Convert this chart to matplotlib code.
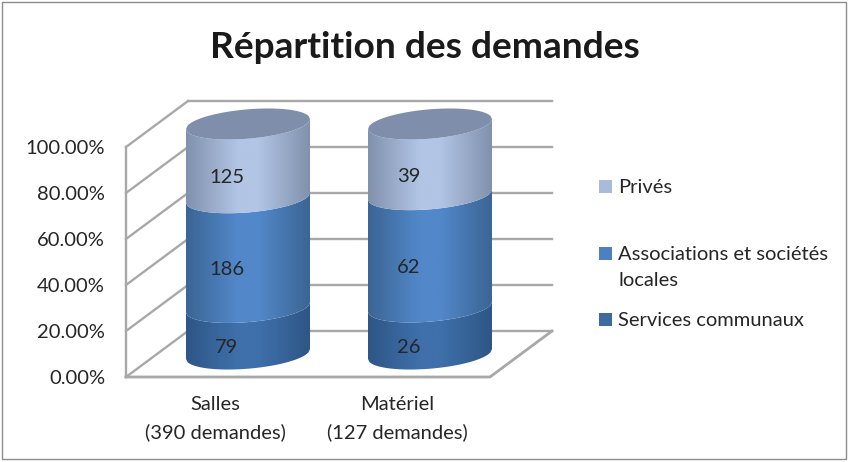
import matplotlib
matplotlib.use('Agg')
import matplotlib.pyplot as plt
import numpy as np
from matplotlib.patches import Polygon, Rectangle
from matplotlib.colors import LinearSegmentedColormap

plt.rcParams['font.family'] = ['Lato', 'DejaVu Sans']

title = 'Répartition des demandes'
categories = ['Salles\n(390 demandes)', 'Matériel\n(127 demandes)']
services = [79, 26]
associations = [186, 62]
prives = [125, 39]
series_names = ['Services communaux', 'Associations et sociétés\nlocales', 'Privés']
y_ticks = [0, 20, 40, 60, 80, 100]

# edge / middle colours for the cylinder shading
shades = [
    ('#2E5686', '#3F70AB'),
    ('#3B6594', '#5288CA'),
    ('#8091AD', '#B2C5E5'),
]
legend_colors = ['#3F6A9E', '#4C80BE', '#A9BBDB']
top_color = '#7F8FAB'
grid_color = '#A8A8A8'
text_color = '#262626'
FS = 14.5

# plot box in pixels
LEFT, RIGHT, BOTTOM, TOP = 126, 490, 377, 147
DX, DY = 62, -46
CYL_W = 62
ELL_B, ELL_S = 14.7, 5


def y_px(pct):
    return BOTTOM + (TOP - BOTTOM) * pct / 100


def x_px(i):
    return LEFT + (RIGHT - LEFT) * (i + 0.5) / len(categories)


def ellipse_arc(cx, cy, lower=True):
    u = np.linspace(-1, 1, 80)
    side = 1 if lower else -1
    x = cx + CYL_W * u
    y = cy - ELL_S * u + side * ELL_B * np.sqrt(1 - u ** 2)
    return np.column_stack([x, y])


fig = plt.figure(figsize=(8.48, 4.62), dpi=100)
ax = fig.add_axes([0, 0, 1, 1])

# frame
ax.add_patch(Rectangle((2, 2), 844, 457, fill=False, ec='#8C8C8C', lw=1))

# walls and floor
for t in y_ticks:
    y = y_px(t)
    ax.plot([LEFT, LEFT + DX], [y, y + DY], color=grid_color, lw=1.7, zorder=1)
    ax.plot([LEFT + DX, RIGHT + DX], [y + DY, y + DY], color=grid_color, lw=1.7, zorder=1)
    ax.text(105, y + 1, f'{t:.2f}%', ha='right', va='center', fontsize=FS, color=text_color)
ax.plot([LEFT, LEFT], [TOP, BOTTOM], color=grid_color, lw=1.7, zorder=1)
ax.plot([LEFT, RIGHT, RIGHT + DX], [BOTTOM, BOTTOM, BOTTOM + DY], color=grid_color, lw=2, zorder=1)

# cylinders
for i, label in enumerate(categories):
    counts = [services[i], associations[i], prives[i]]
    total = sum(counts)
    cx = x_px(i) + DX / 2
    low = 0
    for j, n in enumerate(counts):
        pct = 100 * n / total
        high = low + pct
        y0 = y_px(low) + DY / 2
        y1 = y_px(high) + DY / 2
        lower_arc = ellipse_arc(cx, y0)
        upper_arc = ellipse_arc(cx, y1)[::-1]
        poly = Polygon(np.vstack([lower_arc, upper_arc]), closed=True, fc='none', ec='none',
                       transform=ax.transData)
        ax.add_patch(poly)
        edge, mid = shades[j]
        cmap = LinearSegmentedColormap.from_list('s', [(0, edge), (0.42, mid), (0.58, mid), (1, edge)], N=256)
        grad = np.linspace(0, 1, 256).reshape(1, -1)
        im = ax.imshow(grad, cmap=cmap, aspect='auto', zorder=3, interpolation='bilinear',
                       extent=(cx - CYL_W, cx + CYL_W, y0 + 30, y1 - 30))
        im.set_clip_path(poly)
        ax.text(cx - 21, (y0 + y1) / 2 + 17, str(n), ha='center', va='center',
                fontsize=FS, color=text_color, zorder=5)
        low = high
    top_y = y_px(low) + DY / 2
    top = np.vstack([ellipse_arc(cx, top_y), ellipse_arc(cx, top_y, lower=False)[::-1]])
    ax.add_patch(Polygon(top, closed=True, fc=top_color, ec='none', zorder=4))
    for k, line in enumerate(label.split('\n')):
        ax.text(x_px(i) - 1.5, BOTTOM + 28 + 27 * k, line, ha='center', va='center', fontsize=FS,
                color=text_color)

# legend
legend_y = [319.5, 253, 186.5]
for name, c, y in zip(series_names, legend_colors, legend_y):
    ax.add_patch(Rectangle((599, y - 6.5), 13, 13, fc=c, ec='none'))
    ax.text(618, y + 1, name.split('\n')[0], ha='left', va='center', fontsize=FS, color=text_color)
    if '\n' in name:
        ax.text(618, y + 28, name.split('\n')[1], ha='left', va='center', fontsize=FS,
                color=text_color)

ax.text(425, 48, title, ha='center', va='center', fontsize=26.7, fontweight='bold', color='#1A1A1A')

ax.set_xlim(0, 848)
ax.set_ylim(462, 0)
ax.axis('off')

fig.savefig('out.png', dpi=100, facecolor='white')
